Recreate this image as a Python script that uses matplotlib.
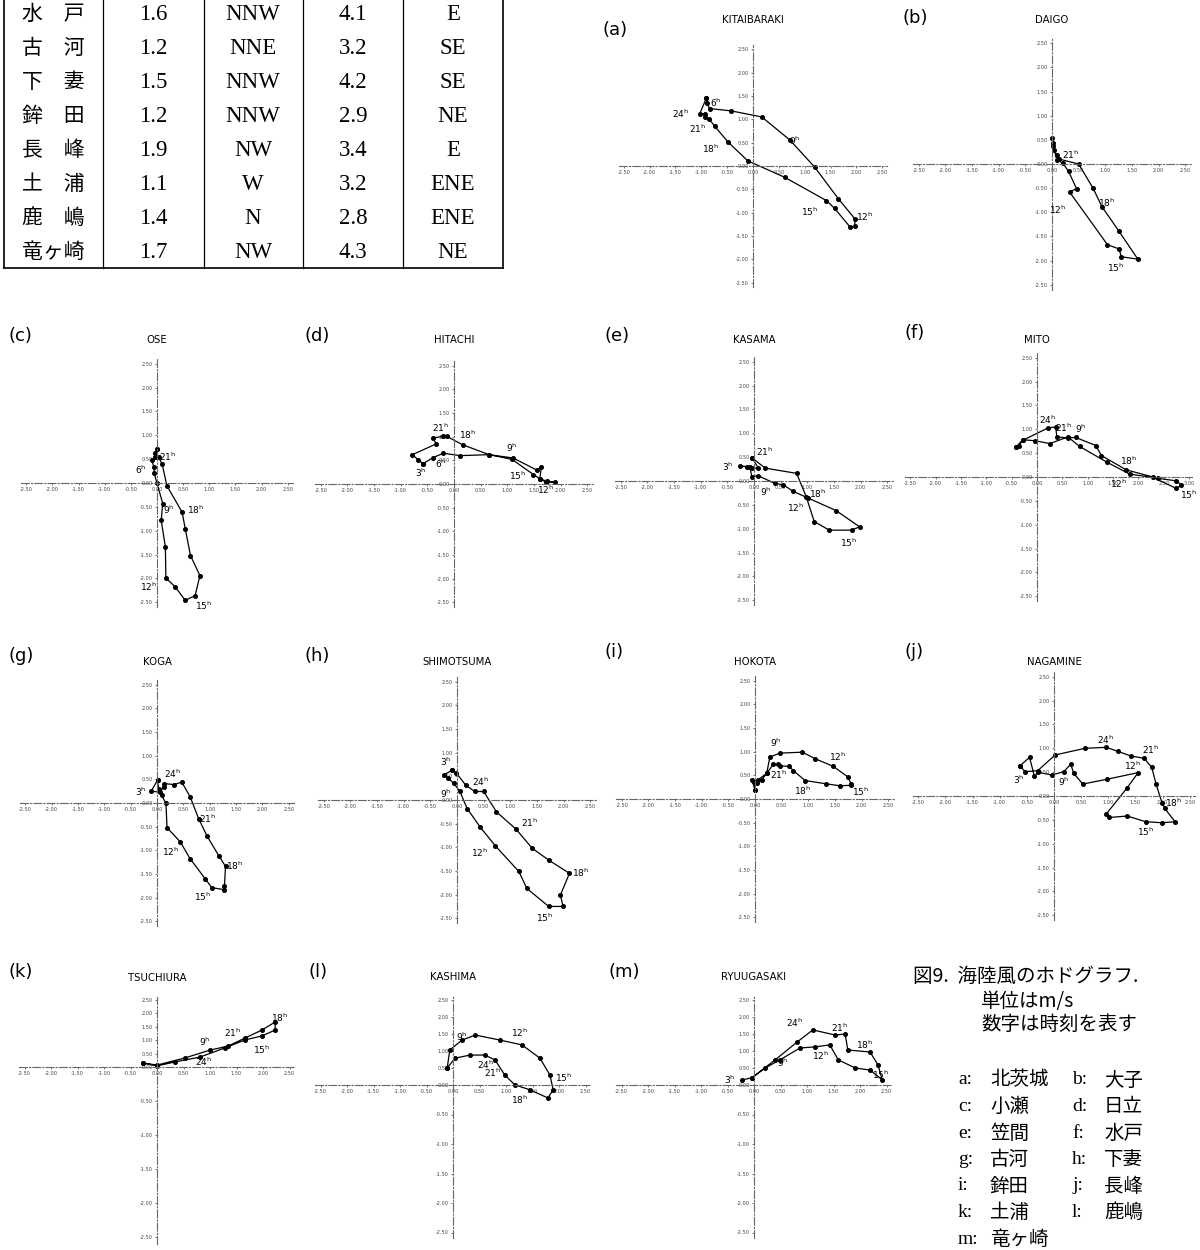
import numpy as np
import matplotlib.pyplot as plt

W, H = 1200, 1250

# ---- table (top-left) ----
tab_names = ['水　戸', '古　河', '下　妻', '鉾　田', '長　峰', '土　浦', '鹿　嶋', '竜ヶ崎']
tab_v1 = ['1.6', '1.2', '1.5', '1.2', '1.9', '1.1', '1.4', '1.7']
tab_d1 = ['NNW', 'NNE', 'NNW', 'NNW', 'NW', 'W', 'N', 'NW']
tab_v2 = ['4.1', '3.2', '4.2', '2.9', '3.4', '3.2', '2.8', '4.3']
tab_d2 = ['E', 'SE', 'SE', 'NE', 'E', 'ENE', 'ENE', 'NE']

# ---- hodographs: (u, v) in m/s, hour labels ----
names = ['KITAIBARAKI', 'DAIGO', 'OSE', 'HITACHI', 'KASAMA', 'MITO', 'KOGA',
         'SHIMOTSUMA', 'HOKOTA', 'NAGAMINE', 'TSUCHIURA', 'KASHIMA', 'RYUUGASAKI']
letters = list('abcdefghijklm')

u_a = [-0.90, -0.89, -0.84, -0.42, 0.17, 0.71, 1.19, 1.65, 1.97, 1.97, 1.88, 1.58, 1.42, 0.61, -0.10, -0.48, -0.74, -0.85, -0.92, -0.92, -1.03, -0.90]
v_a = [1.46, 1.34, 1.23, 1.18, 1.05, 0.56, -0.02, -0.70, -1.13, -1.29, -1.31, -0.91, -0.74, -0.24, 0.11, 0.51, 0.85, 1.01, 1.04, 1.12, 1.12, 1.46]
u_b = [0.00, 0.02, 0.03, 0.09, 0.14, 0.50, 0.77, 0.94, 1.25, 1.61, 1.30, 1.26, 1.04, 0.33, 0.46, 0.31, 0.20, 0.09, 0.02]
v_b = [0.54, 0.43, 0.30, 0.19, 0.10, 0.00, -0.50, -0.89, -1.38, -1.97, -1.92, -1.76, -1.67, -0.58, -0.51, -0.15, 0.02, 0.09, 0.37]
u_c = [0.00, -0.03, 0.03, 0.10, 0.19, 0.48, 0.54, 0.64, 0.82, 0.73, 0.54, 0.35, 0.17, 0.16, 0.08, 0.11, 0.00, -0.05, -0.06, -0.10, -0.03, 0.00]
v_c = [0.71, 0.62, 0.55, 0.39, -0.06, -0.61, -0.96, -1.52, -1.94, -2.36, -2.46, -2.18, -1.99, -1.34, -0.78, -0.43, -0.01, 0.20, 0.34, 0.48, 0.55, 0.71]
u_d = [-0.58, -0.39, -0.20, 0.11, 0.66, 1.09, 1.49, 1.61, 1.74, 1.89, 1.73, 1.61, 1.64, 1.56, 1.11, 0.66, 0.16, -0.14, -0.20, -0.40, -0.33, -0.78, -0.67, -0.58]
v_d = [0.43, 0.56, 0.65, 0.60, 0.62, 0.52, 0.20, 0.11, 0.06, 0.04, 0.04, 0.11, 0.36, 0.29, 0.55, 0.62, 0.83, 1.01, 1.01, 0.97, 0.85, 0.62, 0.51, 0.43]
u_e = [-0.03, 0.21, 0.80, 0.98, 1.13, 1.41, 1.83, 1.98, 1.54, 1.02, 0.74, 0.55, 0.39, 0.08, -0.04, -0.08, -0.26, -0.14, -0.04, 0.08, -0.03]
v_e = [0.48, 0.27, 0.16, -0.33, -0.85, -1.03, -1.03, -0.96, -0.62, -0.36, -0.22, -0.08, -0.05, 0.11, 0.09, 0.30, 0.31, 0.30, 0.27, 0.27, 0.48]
u_f = [-0.42, -0.36, -0.28, 0.22, 0.37, 0.39, 0.61, 0.76, 1.16, 1.27, 1.76, 2.39, 2.75, 2.85, 2.75, 2.29, 1.83, 1.38, 0.84, 0.61, 0.25, -0.03, -0.28, -0.42]
v_f = [0.62, 0.66, 0.77, 1.03, 1.05, 0.84, 0.82, 0.83, 0.66, 0.45, 0.15, -0.03, -0.08, -0.17, -0.24, -0.01, 0.06, 0.31, 0.64, 0.84, 0.70, 0.76, 0.78, 0.62]
u_g = [0.01, -0.11, 0.05, 0.13, 0.14, 0.32, 0.47, 0.63, 0.79, 0.95, 1.17, 1.30, 1.28, 1.27, 1.04, 0.92, 0.63, 0.44, 0.19, 0.17, 0.09, 0.03, 0.01]
v_g = [0.48, 0.25, 0.23, 0.34, 0.41, 0.39, 0.44, 0.13, -0.33, -0.70, -1.11, -1.34, -1.76, -1.83, -1.79, -1.61, -1.18, -0.82, -0.52, -0.01, 0.16, 0.30, 0.48]
u_h = [-0.09, -0.25, -0.16, -0.06, 0.05, 0.19, 0.44, 0.72, 1.16, 1.31, 1.72, 1.99, 1.94, 2.11, 1.72, 1.41, 1.11, 0.74, 0.50, 0.33, 0.16, -0.02, -0.09]
v_h = [0.63, 0.53, 0.46, 0.35, 0.19, -0.18, -0.58, -0.97, -1.51, -1.87, -2.25, -2.25, -2.01, -1.55, -1.27, -1.02, -0.62, -0.25, 0.18, 0.18, 0.32, 0.58, 0.63]
u_i = [0.00, -0.06, 0.03, 0.13, 0.22, 0.28, 0.47, 0.89, 1.13, 1.47, 1.75, 1.80, 1.80, 1.59, 1.34, 0.94, 0.72, 0.64, 0.47, 0.44, 0.34, 0.22, 0.06, -0.02, 0.00]
v_i = [0.20, 0.41, 0.34, 0.41, 0.55, 0.89, 0.97, 0.99, 0.85, 0.69, 0.46, 0.32, 0.29, 0.28, 0.32, 0.39, 0.60, 0.69, 0.70, 0.73, 0.73, 0.54, 0.41, 0.35, 0.20]
u_j = [-0.63, -0.45, -0.36, -0.30, -0.04, 0.18, 0.31, 0.36, 0.53, 0.97, 1.55, 1.34, 0.96, 1.02, 1.35, 1.69, 1.98, 2.23, 2.04, 1.99, 1.88, 1.80, 1.66, 1.41, 1.17, 0.96, 0.57, 0.02, -0.30, -0.53, -0.63]
v_j = [0.63, 0.81, 0.41, 0.50, 0.44, 0.51, 0.67, 0.48, 0.25, 0.35, 0.49, 0.16, -0.38, -0.45, -0.42, -0.54, -0.56, -0.54, -0.26, -0.15, 0.25, 0.60, 0.79, 0.84, 0.94, 1.02, 1.00, 0.86, 0.53, 0.51, 0.63]
u_k = [-0.26, 0.00, 0.53, 1.00, 1.34, 1.66, 1.98, 2.23, 2.23, 1.98, 1.66, 1.28, 0.81, 0.34, 0.00, -0.26]
v_k = [0.15, 0.07, 0.34, 0.63, 0.78, 1.08, 1.38, 1.68, 1.38, 1.16, 1.01, 0.71, 0.37, 0.19, 0.04, 0.15]
u_l = [-0.11, -0.06, 0.17, 0.42, 0.89, 1.30, 1.64, 1.83, 1.89, 1.79, 1.45, 1.17, 0.98, 0.79, 0.60, 0.32, 0.04, -0.11]
v_l = [0.50, 1.03, 1.32, 1.47, 1.32, 1.18, 0.79, 0.29, -0.08, -0.22, -0.08, 0.00, 0.29, 0.74, 0.88, 0.88, 0.79, 0.50]
u_m = [-0.23, -0.04, 0.40, 0.81, 1.11, 1.53, 1.72, 1.77, 2.19, 2.34, 2.42, 2.19, 1.91, 1.59, 1.43, 1.15, 0.87, 0.49, 0.21, -0.04]
v_m = [0.15, 0.21, 0.74, 1.26, 1.62, 1.47, 1.50, 1.03, 0.97, 0.59, 0.15, 0.44, 0.50, 0.74, 1.18, 1.12, 1.09, 0.74, 0.50, 0.21]

us = [u_a, u_b, u_c, u_d, u_e, u_f, u_g, u_h, u_i, u_j, u_k, u_l, u_m]
vs = [v_a, v_b, v_c, v_d, v_e, v_f, v_g, v_h, v_i, v_j, v_k, v_l, v_m]

# hour labels: (text, u, v)
hours = [
    [('6', -0.72, 1.35), ('24', -1.40, 1.12), ('21', -1.08, 0.80), ('18', -0.82, 0.37), ('9', 0.80, 0.55), ('15', 1.10, -0.99), ('12', 2.15, -1.09)],
    [('21', 0.35, 0.19), ('18', 1.03, -0.80), ('12', 0.10, -0.94), ('15', 1.20, -2.15)],
    [('21', 0.20, 0.55), ('6', -0.32, 0.27), ('9', 0.23, -0.57), ('18', 0.74, -0.57), ('12', -0.16, -2.18), ('15', 0.90, -2.57)],
    [('21', -0.26, 1.18), ('18', 0.25, 1.04), ('9', 1.09, 0.76), ('6', -0.24, 0.42), ('3', -0.63, 0.23), ('15', 1.19, 0.18), ('12', 1.72, -0.13)],
    [('21', 0.19, 0.62), ('3', -0.50, 0.30), ('9', 0.22, -0.22), ('18', 1.19, -0.26), ('12', 0.78, -0.57), ('15', 1.78, -1.29)],
    [('24', 0.20, 1.19), ('21', 0.53, 1.03), ('9', 0.86, 1.01), ('18', 1.81, 0.35), ('12', 1.61, -0.15), ('15', 2.98, -0.38)],
    [('24', 0.30, 0.62), ('3', -0.30, 0.23), ('21', 0.96, -0.33), ('12', 0.26, -1.04), ('18', 1.47, -1.32), ('15', 0.87, -1.99)],
    [('3', -0.21, 0.81), ('24', 0.45, 0.39), ('9', -0.21, 0.14), ('21', 1.36, -0.49), ('12', 0.42, -1.11), ('18', 2.31, -1.54), ('15', 1.64, -2.50)],
    [('9', 0.39, 1.18), ('21', 0.45, 0.51), ('12', 1.54, 0.90), ('18', 0.89, 0.18), ('15', 1.98, 0.16)],
    [('24', 0.95, 1.17), ('21', 1.78, 0.97), ('12', 1.44, 0.63), ('9', 0.18, 0.30), ('3', -0.65, 0.34), ('18', 2.21, -0.15), ('15', 1.69, -0.75)],
    [('9', 0.90, 0.93), ('21', 1.43, 1.27), ('18', 2.32, 1.83), ('15', 1.98, 0.63), ('24', 0.87, 0.18)],
    [('9', 0.17, 1.41), ('12', 1.26, 1.53), ('24', 0.62, 0.60), ('21', 0.75, 0.36), ('18', 1.26, -0.25), ('15', 2.08, 0.20)],
    [('24', 0.77, 1.82), ('21', 1.62, 1.68), ('9', 0.55, 0.66), ('12', 1.25, 0.86), ('18', 2.09, 1.18), ('15', 2.38, 0.30), ('3', -0.45, 0.15)],
]

caption = ['図9.  海陸風のホドグラフ.', '単位はm/s', '数字は時刻を表す']
key_l = ['a:', 'c:', 'e:', 'g:', 'i:', 'k:', 'm:']
key_ln = ['北茨城', '小瀬', '笠間', '古河', '鉾田', '土浦', '竜ヶ崎']
key_r = ['b:', 'd:', 'f:', 'h:', 'j:', 'l:']
key_rn = ['大子', '日立', '水戸', '下妻', '長峰', '鹿嶋']

# layout in pixels: origin x, origin y, px/unit x, px/unit y up, px/unit y down, x max
layout = [
    (753, 166, 51.7, 46.7, 46.7, 2.6),
    (1052, 164, 53.3, 48.3, 48.3, 2.6),
    (157, 483, 52.3, 47.7, 47.7, 2.6),
    (454, 484, 53.3, 47.3, 47.3, 2.6),
    (754, 481, 53.3, 47.7, 47.7, 2.6),
    (1037, 477, 50.7, 47.7, 47.7, 3.05),
    (157, 803, 52.7, 47.3, 47.3, 2.6),
    (457, 800, 53.3, 47.3, 47.3, 2.6),
    (755, 799, 53.3, 47.3, 47.3, 2.6),
    (1054, 796, 54.3, 47.7, 47.7, 2.6),
    (157, 1067, 53.0, 26.8, 68.0, 2.6),
    (453, 1085, 53.0, 34.0, 59.0, 2.6),
    (754, 1085, 53.0, 34.0, 59.0, 2.6),
]
title_y = [20, 20, 340, 340, 340, 340, 662, 662, 662, 662, 978, 977, 977]
letter_xy = [(603, 30), (903, 18), (8, 336), (305, 336), (605, 336), (905, 333),
             (8, 656), (305, 656), (605, 652), (905, 652), (8, 972), (308, 972), (608, 972)]

plt.rcParams['font.family'] = ['DejaVu Sans']
fig = plt.figure(figsize=(12, 12.5), dpi=100)


def fx(x):
    return x / W


def fy(y):
    return 1 - y / H


# table, caption and key drawn in a full-figure pixel axes
ta = fig.add_axes([0, 0, 1, 1], zorder=-1)
ta.set_xlim(0, W)
ta.set_ylim(H, 0)
ta.axis('off')
for x in [4, 103, 204, 303, 403, 503]:
    ta.plot([x, x], [0, 268], color='k', lw=1.2 if x in (4, 503) else 0.9)
ta.plot([4, 503], [268, 268], color='k', lw=1.2)
cjk = ['Noto Sans CJK JP']
serif = ['Liberation Serif']
for i in range(8):
    y = 14 + 34 * i
    ta.text(53, y, tab_names[i], ha='center', va='center', fontsize=15, family=cjk)
    ta.text(153, y, tab_v1[i], ha='center', va='center', fontsize=16.5, family=serif)
    ta.text(253, y, tab_d1[i], ha='center', va='center', fontsize=16.5, family=serif)
    ta.text(353, y, tab_v2[i], ha='center', va='center', fontsize=16.5, family=serif)
    ta.text(453, y, tab_d2[i], ha='center', va='center', fontsize=16.5, family=serif)

ta.text(913, 976, caption[0], ha='left', va='center', fontsize=14, family=cjk)
ta.text(981, 1002, caption[1], ha='left', va='center', fontsize=14, family=cjk)
ta.text(981, 1024, caption[2], ha='left', va='center', fontsize=14, family=cjk)
for i in range(7):
    y = 1080 + 26.5 * i
    ta.text(958, y, key_l[i], ha='left', va='center', fontsize=14, family=serif)
    ta.text(990, y, key_ln[i], ha='left', va='center', fontsize=14, family=cjk)
    if i < 6:
        ta.text(1072, y, key_r[i], ha='left', va='center', fontsize=14, family=serif)
        ta.text(1104, y, key_rn[i], ha='left', va='center', fontsize=14, family=cjk)

ticks = np.arange(-2.5, 2.51, 0.5)

for k in range(13):
    ox, oy, sx, su, sl, xmax = layout[k]
    xmin = -2.6
    left = ox + xmin * sx
    width = (xmax - xmin) * sx
    top = oy - 2.6 * su
    bottom = oy + 2.6 * sl
    ax = fig.add_axes([fx(left), fy(bottom), width / W, (bottom - top) / H])
    ax.set_facecolor('none')
    if su != sl:
        r = sl / su
        ax.set_yscale('function', functions=(
            lambda y, r=r: np.where(y >= 0, y, y * r),
            lambda y, r=r: np.where(y >= 0, y, y / r)))
    ax.set_xlim(xmin, xmax)
    ax.set_ylim(-2.6, 2.6)
    for s in ['top', 'right']:
        ax.spines[s].set_visible(False)
    for s in ['left', 'bottom']:
        ax.spines[s].set_position('zero')
        ax.spines[s].set_color('#666666')
        ax.spines[s].set_linewidth(0.8)
        ax.spines[s].set_linestyle((0, (7, 2, 1, 2)))
    xt = ticks if xmax < 3 else np.append(ticks, 3.0)
    ax.set_xticks(xt)
    ax.set_xticklabels(['%.2f' % t for t in xt])
    ax.set_yticks(ticks)
    ax.set_yticklabels(['%.2f' % t for t in ticks])
    ax.tick_params(labelsize=3.6, colors='#444444', length=1.5, width=0.5, pad=1.5)
    ax.plot(us[k], vs[k], color='k', lw=0.9, marker='o', ms=2.6, mfc='k', mec='k')
    for t, hx, hy in hours[k]:
        ax.text(hx, hy, t + r'$^{\mathrm{h}}$', fontsize=6.5, ha='center', va='center')
    fig.text(fx(ox), fy(title_y[k]), names[k], ha='center', va='center', fontsize=7.3)
    lx, ly = letter_xy[k]
    fig.text(fx(lx), fy(ly), '(%s)' % letters[k], ha='left', va='center', fontsize=13)

fig.savefig('out.png', dpi=100)
